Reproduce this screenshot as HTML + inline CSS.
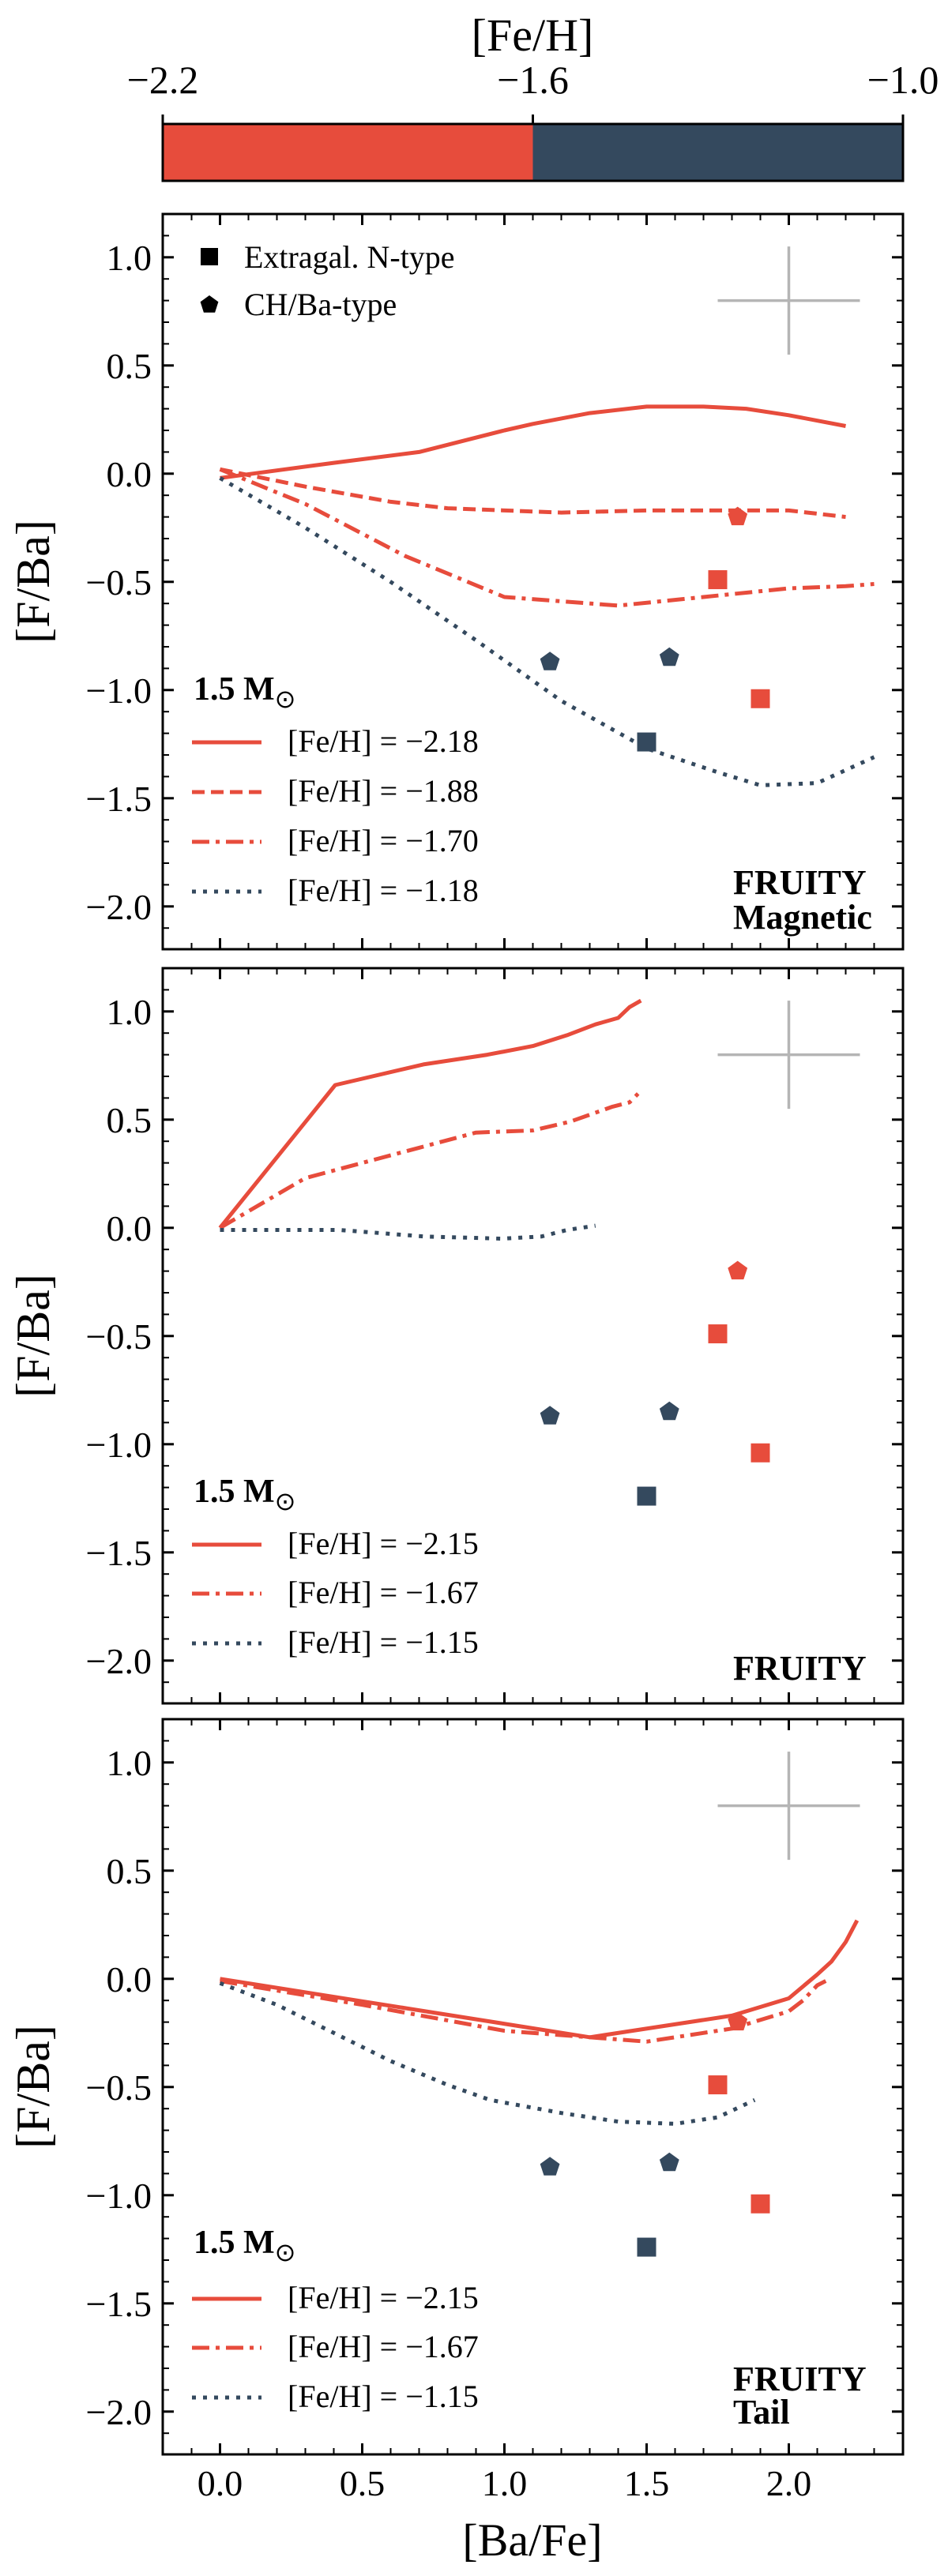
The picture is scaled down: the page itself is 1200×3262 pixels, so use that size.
<!DOCTYPE html>
<html><head><meta charset="utf-8">
<style>
html,body{margin:0;padding:0;background:#fff;}
svg{display:block;}
text{font-family:"Liberation Serif",serif;fill:#000;}
</style></head>
<body>
<svg id="fig" width="1200" height="3262" viewBox="0 0 1200 3262" xmlns="http://www.w3.org/2000/svg">
  <g id="cbar">
    <text x="674" y="64" font-size="58" text-anchor="middle">[Fe/H]</text>
    <rect x="206" y="157" width="468.5" height="72" fill="#e74c3c"/>
    <rect x="674.5" y="157" width="468.5" height="72" fill="#34495e"/>
    <rect x="206" y="157" width="937" height="72" fill="none" stroke="#000" stroke-width="3"/>
  </g>
  <g id="panels"></g>
</svg>
<script>
// ---- data ----
const cbarTicks = [-2.2, -1.6, -1.0];
const xTicks = [0.0, 0.5, 1.0, 1.5, 2.0];
const yTicks = [1.0, 0.5, 0.0, -0.5, -1.0, -1.5, -2.0];

// observational points (same in all panels)
const sqX = [1.75, 1.90, 1.50];
const sqY = [-0.49, -1.04, -1.24];
const sqC = ['red', 'red', 'navy'];
const pentX = [1.16, 1.58, 1.82];
const pentY = [-0.87, -0.85, -0.20];
const pentC = ['navy', 'navy', 'red'];

// Panel 1: FRUITY Magnetic
const p1a_x = [0, 0.4, 0.7, 1.0, 1.1, 1.3, 1.5, 1.7, 1.85, 2.0, 2.2];
const p1a_y = [-0.02, 0.05, 0.10, 0.20, 0.23, 0.28, 0.31, 0.31, 0.30, 0.27, 0.22];
const p1b_x = [0, 0.3, 0.6, 0.8, 1.2, 1.5, 1.8, 2.0, 2.2];
const p1b_y = [0.02, -0.06, -0.13, -0.16, -0.18, -0.17, -0.17, -0.17, -0.20];
const p1c_x = [0, 0.3, 0.65, 1.0, 1.4, 1.7, 2.0, 2.2, 2.3];
const p1c_y = [0.02, -0.14, -0.38, -0.57, -0.61, -0.57, -0.53, -0.52, -0.51];
const p1d_x = [0, 0.3, 0.6, 0.9, 1.2, 1.5, 1.75, 1.9, 2.1, 2.2, 2.3];
const p1d_y = [-0.02, -0.25, -0.50, -0.77, -1.05, -1.27, -1.38, -1.44, -1.43, -1.37, -1.31];

// Panel 2: FRUITY
const p2a_x = [0, 0.405, 0.715, 0.94, 1.10, 1.22, 1.32, 1.40, 1.44, 1.48];
const p2a_y = [0, 0.66, 0.755, 0.80, 0.84, 0.89, 0.94, 0.97, 1.02, 1.05];
const p2c_x = [0, 0.30, 0.70, 0.90, 1.10, 1.23, 1.38, 1.44, 1.47];
const p2c_y = [0, 0.23, 0.37, 0.44, 0.45, 0.49, 0.56, 0.58, 0.62];
const p2d_x = [0, 0.42, 0.72, 0.99, 1.13, 1.22, 1.32];
const p2d_y = [-0.01, -0.01, -0.04, -0.05, -0.04, -0.01, 0.01];

// Panel 3: FRUITY Tail
const p3a_x = [0, 1.3, 1.8, 2.0, 2.1, 2.15, 2.2, 2.24];
const p3a_y = [0, -0.27, -0.17, -0.09, 0.02, 0.08, 0.17, 0.27];
const p3c_x = [0, 0.5, 1.0, 1.5, 1.8, 2.0, 2.05, 2.1, 2.13];
const p3c_y = [-0.01, -0.12, -0.24, -0.29, -0.23, -0.15, -0.10, -0.03, -0.01];
const p3d_x = [0, 0.2, 0.4, 0.6, 0.8, 0.95, 1.2, 1.4, 1.6, 1.75, 1.88];
const p3d_y = [-0.02, -0.12, -0.25, -0.38, -0.49, -0.56, -0.62, -0.66, -0.67, -0.64, -0.56];

// ---- rendering ----
const NS = 'http://www.w3.org/2000/svg';
const RED = '#e74c3c', NAVY = '#34495e';
const colors = {red: RED, navy: NAVY};
const styles = {
  solid: '',
  dashed: '16,8',
  dashdot: '22,8,5,8',
  dotted: '5,9'
};
function mk(tag, attrs, parent) {
  const e = document.createElementNS(NS, tag);
  for (const k in attrs) e.setAttribute(k, attrs[k]);
  if (parent) parent.appendChild(e);
  return e;
}
function fmt(v) {
  const s = Math.abs(v).toFixed(1);
  return (v < 0 ? '\u2212' : '') + s;
}

// colorbar ticks
const cb = document.getElementById('cbar');
cbarTicks.forEach(function (t) {
  const x = 206 + (t + 2.2) / 1.2 * 937;
  const ln = mk('line', {x1: x, x2: x, y1: 157, y2: 145, stroke: '#000', 'stroke-width': 3}, cb);
  
  
  const tx = mk('text', {x: x, y: 118, 'font-size': 50, 'text-anchor': 'middle'}, cb);
  
  
  tx.textContent = fmt(t);
});

const L = 206, R = 1143, PH = 931;
function sx(v) { return 278.5 + v * 360; }

const panels = [
  {top: 271, name: 'magnetic', series: [
      {x: p1a_x, y: p1a_y, c: RED, s: 'solid', label: '[Fe/H] = \u22122.18'},
      {x: p1b_x, y: p1b_y, c: RED, s: 'dashed', label: '[Fe/H] = \u22121.88'},
      {x: p1c_x, y: p1c_y, c: RED, s: 'dashdot', label: '[Fe/H] = \u22121.70'},
      {x: p1d_x, y: p1d_y, c: NAVY, s: 'dotted', label: '[Fe/H] = \u22121.18'}],
    legendRows: [681, 744, 807, 870], massY: 615, tags: ['FRUITY', 'Magnetic'], tagY: [861, 905], obsLegend: true},
  {top: 1226, name: 'fruity', series: [
      {x: p2a_x, y: p2a_y, c: RED, s: 'solid', label: '[Fe/H] = \u22122.15'},
      {x: p2c_x, y: p2c_y, c: RED, s: 'dashdot', label: '[Fe/H] = \u22121.67'},
      {x: p2d_x, y: p2d_y, c: NAVY, s: 'dotted', label: '[Fe/H] = \u22121.15'}],
    legendRows: [742, 804, 867], massY: 676, tags: ['FRUITY'], tagY: [901], obsLegend: false},
  {top: 2177, name: 'tail', series: [
      {x: p3a_x, y: p3a_y, c: RED, s: 'solid', label: '[Fe/H] = \u22122.15'},
      {x: p3c_x, y: p3c_y, c: RED, s: 'dashdot', label: '[Fe/H] = \u22121.67'},
      {x: p3d_x, y: p3d_y, c: NAVY, s: 'dotted', label: '[Fe/H] = \u22121.15'}],
    legendRows: [746, 808, 871], massY: 676, tags: ['FRUITY', 'Tail'], tagY: [850, 892], obsLegend: false}
];

function pentPts(cx, cy, r) {
  const p = [];
  for (let i = 0; i < 5; i++) {
    const a = -Math.PI / 2 + i * 2 * Math.PI / 5;
    p.push((cx + r * Math.cos(a)).toFixed(1) + ',' + (cy + r * Math.sin(a)).toFixed(1));
  }
  return p.join(' ');
}

const root = document.getElementById('panels');
panels.forEach(function (P, pi) {
  const T = P.top, B = T + PH;
  const sy = function (v) { return T + (1.2 - v) * 274; };
  const g = mk('g', {}, root);
  
  

  const cid = 'clip' + pi;
  const cp = mk('clipPath', {id: cid}, g);
  mk('rect', {x: L, y: T, width: R - L, height: PH}, cp);

  for (let i = -2; i <= 24; i++) {
    const v = i / 10, x = sx(v);
    if (x < L + 1 || x > R - 1) continue;
    const major = (i % 5 === 0);
    const len = major ? 14 : 8;
    [[T, T + len], [B, B - len]].forEach(function (yy) {
      const t = mk('line', {x1: x, x2: x, y1: yy[0], y2: yy[1], stroke: '#000', 'stroke-width': major ? 3 : 2}, g);
      
      
    });
  }
  for (let i = -22; i <= 12; i++) {
    const v = i / 10, y = sy(v);
    if (y < T + 1 || y > B - 1) continue;
    const major = (i % 5 === 0);
    const len = major ? 14 : 8;
    [[L, L + len], [R, R - len]].forEach(function (xx) {
      const t = mk('line', {x1: xx[0], x2: xx[1], y1: y, y2: y, stroke: '#000', 'stroke-width': major ? 3 : 2}, g);
      
      
    });
  }
  yTicks.forEach(function (v) {
    const t = mk('text', {x: 192, y: sy(v) + 16, 'font-size': 46, 'text-anchor': 'end'}, g);
    
    
    t.textContent = fmt(v);
  });
  const yl = mk('text', {x: 0, y: 0, 'font-size': 60, 'text-anchor': 'middle', transform: 'translate(62,' + (T + PH / 2) + ') rotate(-90)'}, g);
  
  
  yl.textContent = '[F/Ba]';

  const ec = mk('g', {stroke: '#b5b5b5', 'stroke-width': 3.5}, g);
  
  
  mk('line', {x1: sx(1.75), x2: sx(2.25), y1: sy(0.8), y2: sy(0.8)}, ec);
  mk('line', {x1: sx(2.0), x2: sx(2.0), y1: sy(1.05), y2: sy(0.55)}, ec);

  const sg = mk('g', {'clip-path': 'url(#' + cid + ')'}, g);
  P.series.forEach(function (S, si) {
    const pts = S.x.map(function (xv, k) { return sx(xv).toFixed(1) + ',' + sy(S.y[k]).toFixed(1); }).join(' ');
    const pl = mk('polyline', {points: pts, fill: 'none', stroke: S.c, 'stroke-width': 5, 'stroke-linejoin': 'round'}, sg);
    if (styles[S.s]) pl.setAttribute('stroke-dasharray', styles[S.s]);
    
    
  });

  sqX.forEach(function (xv, k) {
    const r = mk('rect', {x: sx(xv) - 12, y: sy(sqY[k]) - 12, width: 24, height: 24, fill: colors[sqC[k]]}, g);
    
    
  });
  pentX.forEach(function (xv, k) {
    const p = mk('polygon', {points: pentPts(sx(xv), sy(pentY[k]), 13), fill: colors[pentC[k]]}, g);
    
    
  });

  if (P.obsLegend) {
    const lg = mk('g', {}, g);
    
    
    mk('rect', {x: 254, y: T + 43, width: 22, height: 22, fill: '#000'}, lg);
    const t1 = mk('text', {x: 309, y: T + 68, 'font-size': 40}, lg);
    t1.textContent = 'Extragal. N-type';
    mk('polygon', {points: pentPts(265, T + 115, 12), fill: '#000'}, lg);
    const t2 = mk('text', {x: 309, y: T + 128, 'font-size': 40}, lg);
    t2.textContent = 'CH/Ba-type';
  }

  const ml = mk('text', {x: 245, y: T + P.massY, 'font-size': 42, 'font-weight': 'bold'}, g);
  
  
  ml.innerHTML = '1.5 M<tspan font-size="32" font-weight="normal" dy="10">\u2299</tspan>';

  P.series.forEach(function (S, si) {
    const y = T + P.legendRows[si];
    const ln = mk('line', {x1: 243, x2: 331, y1: y - 12, y2: y - 12, stroke: S.c, 'stroke-width': 5}, g);
    if (styles[S.s]) ln.setAttribute('stroke-dasharray', styles[S.s]);
    
    
    const tx = mk('text', {x: 364, y: y, 'font-size': 40}, g);
    
    
    tx.textContent = S.label;
  });

  P.tags.forEach(function (tg, k) {
    const t = mk('text', {x: 928, y: T + P.tagY[k], 'font-size': 44, 'font-weight': 'bold'}, g);
    
    
    t.textContent = tg;
  });

  const fr = mk('rect', {x: L, y: T, width: R - L, height: PH, fill: 'none', stroke: '#000', 'stroke-width': 3}, g);
  
  

  if (pi === 2) {
    xTicks.forEach(function (v) {
      const t = mk('text', {x: sx(v), y: B + 52, 'font-size': 46, 'text-anchor': 'middle'}, g);
      
      
      t.textContent = v.toFixed(1);
    });
    const xl = mk('text', {x: 674, y: B + 128, 'font-size': 58, 'text-anchor': 'middle'}, g);
    
    
    xl.textContent = '[Ba/Fe]';
  }
});
</script>
</body></html>
